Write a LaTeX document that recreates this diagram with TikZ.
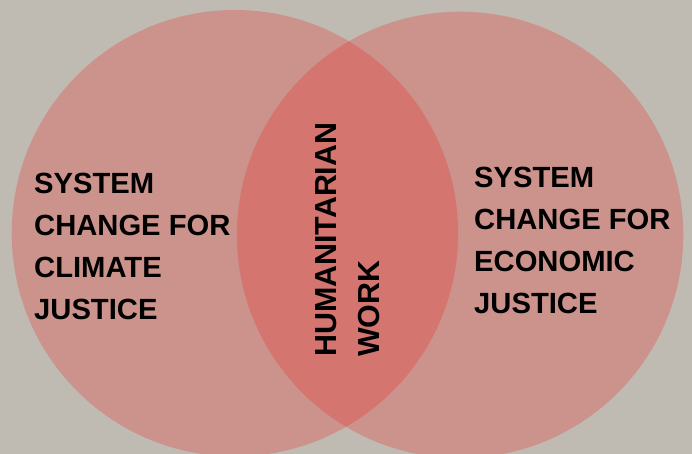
\documentclass[tikz,border=0pt]{standalone}
\usepackage{fontspec}
\setmainfont{Liberation Sans}
\definecolor{bgc}{HTML}{C0BBB2}
\definecolor{circc}{HTML}{CB938B}
\definecolor{lensc}{HTML}{D47570}
\begin{document}
\begin{tikzpicture}[x=1pt,y=-1pt,
  lbl/.style={font=\bfseries\fontsize{29.2}{42}\selectfont, align=left, inner sep=0pt, text=black, anchor=base west},
  midlbl/.style={font=\bfseries\fontsize{30.4}{42.6}\selectfont, align=left, inner sep=0pt, text=black, anchor=base west, rotate=90}]
\fill[bgc] (0,0) rectangle (692,454);
\useasboundingbox (0,0) rectangle (692,454);
\begin{scope}
\clip (0,0) rectangle (692,454);
\fill[circc] (234.9,233.2) circle[radius=223.2];
\fill[circc] (460.1,234.9) circle[radius=223.2];
\begin{scope}
\clip (234.9,233.2) circle[radius=223.2];
\fill[lensc] (460.1,234.9) circle[radius=223.2];
\end{scope}
\end{scope}
\node[lbl] (climate) at (34,319.3) {SYSTEM\\CHANGE FOR\\CLIMATE\\JUSTICE};
\node[lbl] (economic) at (474,313) {SYSTEM\\CHANGE FOR\\ECONOMIC\\JUSTICE};
\node[midlbl] (human) at (379.3,357) {HUMANITARIAN\\WORK};
\end{tikzpicture}
\end{document}
